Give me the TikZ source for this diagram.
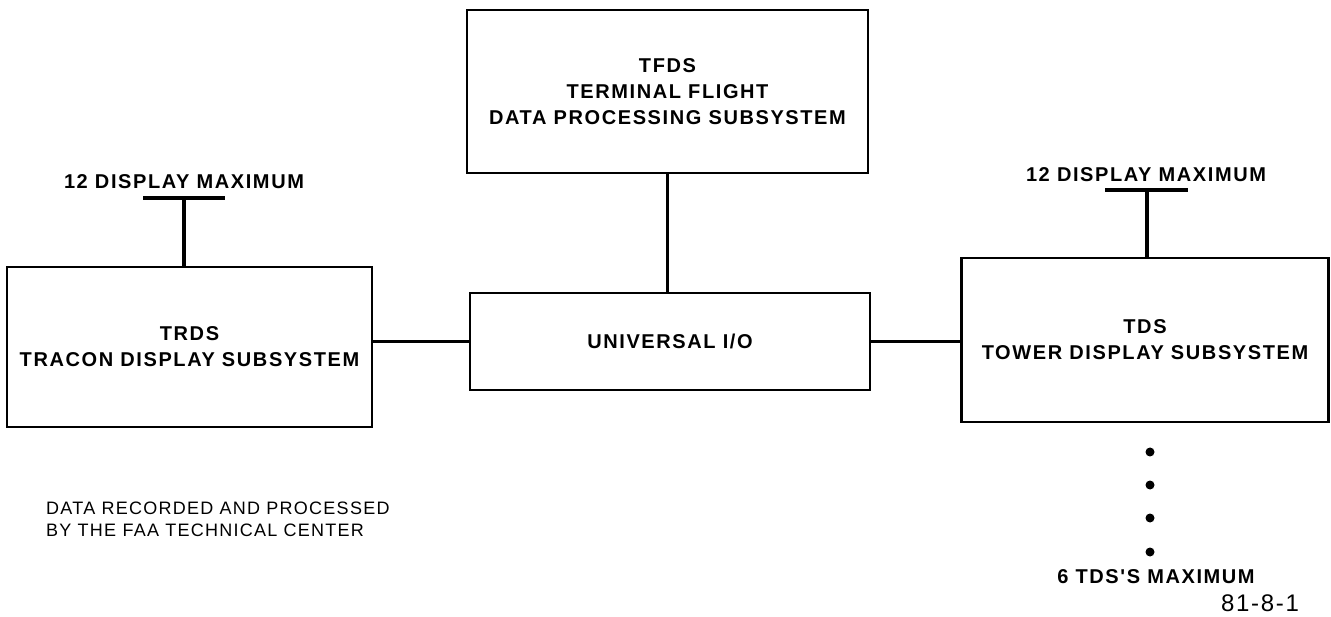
\documentclass[tikz,border=0pt]{standalone}
\usepackage{fontspec}
\setmainfont{Liberation Sans}
\newfontfamily\spacedfont[LetterSpace=8]{Liberation Sans}
\newfontfamily\notefont[LetterSpace=7]{Liberation Sans}
\usetikzlibrary{positioning}

\newcommand{\boxfont}{\spacedfont\bfseries\fontsize{20}{26}\selectfont}
\newcommand{\smallnote}{\notefont\fontsize{18}{22}\selectfont}

\begin{document}
\begin{tikzpicture}[
    x=1pt, y=1pt,
    box/.style={draw, line width=2.4pt, inner sep=0pt, align=center, font=\boxfont},
    link/.style={line width=3.2pt},
    label/.style={inner sep=0pt, font=\boxfont},
    dot/.style={circle, fill=black, inner sep=0pt, minimum size=9pt},
    node distance=12pt
]
\useasboundingbox (0,0) rectangle (1331,-617);

\node[box, minimum width=401pt, minimum height=163pt] (tfds) at (667.5,-91.5)
    {TFDS\\TERMINAL FLIGHT\\DATA PROCESSING SUBSYSTEM};
\node[box, minimum width=400pt, minimum height=97pt] (uio) at (670,-341.5)
    {UNIVERSAL I/O};
\node[box, minimum width=365pt, minimum height=160pt] (trds) at (189.5,-347)
    {TRDS\\TRACON DISPLAY SUBSYSTEM};
\node[box, minimum width=367pt, minimum height=164pt] (tds) at (1145,-340)
    {TDS\\TOWER DISPLAY SUBSYSTEM};

\draw[link] (tfds.south) -- (tfds.south |- uio.north);
\draw[link] (uio.west) -- (uio.west -| trds.east);
\draw[link] (uio.east) -- (uio.east -| tds.west);

% display limits
\coordinate (lbar) at (184,-198);
\coordinate (rbar) at (1147,-190);
\draw[link] (lbar) -- (lbar |- trds.north);
\draw[link] ([xshift=-41pt]lbar) -- ([xshift=41pt]lbar);
\draw[link] (rbar) -- (rbar |- tds.north);
\draw[link] ([xshift=-42pt]rbar) -- ([xshift=41pt]rbar);
\node[label] (ldisp) at (184,-182) {12 DISPLAY MAXIMUM};
\node[label] (rdisp) at (1146,-175) {12 DISPLAY MAXIMUM};

% more towers
\foreach \i/\y in {1/452,2/485,3/518,4/552}
    \node[dot] (dot\i) at (1150,-\y) {};
\node[label] (tdsmax) at (1156,-577) {6 TDS'S MAXIMUM};
\node[inner sep=0pt, font=\notefont\fontsize{24}{28}\selectfont] (fignum) at (1260,-603) {81-8-1};

\node[inner sep=0pt, anchor=west, align=left, font=\smallnote] (note) at (46,-519)
    {DATA RECORDED AND PROCESSED\\BY THE FAA TECHNICAL CENTER};
\end{tikzpicture}
\end{document}
